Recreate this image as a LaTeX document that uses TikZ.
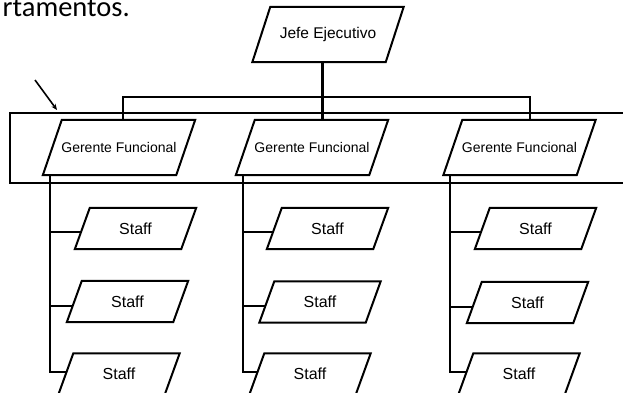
\documentclass[tikz,border=0pt]{standalone}
\usepackage{fontspec}
\usetikzlibrary{arrows.meta}
\newfontfamily\chartfont{Liberation Sans}
\newfontfamily\bodyfont{Carlito}

\tikzset{
  x=1pt, y=1pt,
  orgbox/.style={rectangle, inner sep=0pt, text=black},
  jefebox/.style={orgbox, minimum width=133pt, minimum height=55pt,
    font=\chartfont\fontsize{15.5}{17}\selectfont},
  gerbox/.style={orgbox, minimum width=133pt, minimum height=55pt,
    font=\chartfont\fontsize{14}{16}\selectfont},
  staffbox/.style={orgbox, minimum width=106pt, minimum height=41pt,
    font=\chartfont\fontsize{16}{18}\selectfont},
  boxline/.style={draw=black, line width=2pt, line join=miter},
  link/.style={draw=black, line width=2pt},
  mainlink/.style={draw=black, line width=3pt},
  frameline/.style={draw=black, line width=1.8pt},
}

% parallelogram outline around a node; #2 is half the horizontal lean
\newcommand\leanoutline[2]{%
  \draw[boxline] ([xshift=-#2]#1.south west) -- ([xshift=#2]#1.north west)
    -- ([xshift=#2]#1.north east) -- ([xshift=-#2]#1.south east) -- cycle;}

\begin{document}
\begin{tikzpicture}
\useasboundingbox (0,0) rectangle (623,-392);

% heading text running in from the left margin
\node[anchor=base east, inner sep=0pt, font=\bodyfont\fontsize{28.5}{32}\selectfont]
  (heading) at (130,-16.5) {rtamentos.};

% frame around the row of managers, open on the right
\draw[frameline] (630,-113) -- (10,-113) -- (10,-183) -- (630,-183);
\coordinate (pointtail) at (35,-80);
\coordinate (pointtip) at (57,-110);
\draw[line width=1.6pt, -{Stealth[open,length=6pt,width=5pt]}] (pointtail) -- (pointtip);

% chief executive
\node[jefebox] (jefe) at (328,-34.5) {Jefe Ejecutivo};

% functional managers
\node[gerbox] (g1) at (119,-147.5) {Gerente Funcional};
\node[gerbox] (g2) at (312,-147.5) {Gerente Funcional};
\node[gerbox] (g3) at (519.5,-147.5) {Gerente Funcional};

% staff under each manager
\node[staffbox] (s11) at (135.5,-228.5) {Staff};
\node[staffbox] (s12) at (127.5,-301.5) {Staff};
\node[staffbox] (s13) at (119,-374) {Staff};

\node[staffbox] (s21) at (327.5,-228.5) {Staff};
\node[staffbox] (s22) at (320,-302) {Staff};
\node[staffbox] (s23) at (310,-374) {Staff};

\node[staffbox] (s31) at (535.5,-228.5) {Staff};
\node[staffbox] (s32) at (527.5,-302.5) {Staff};
\node[staffbox] (s33) at (519,-374) {Staff};

% leaning outlines
\leanoutline{jefe}{9pt}
\foreach \n in {g1,g2,g3}{\leanoutline{\n}{9.5pt}}
\foreach \n in {s11,s12,s13,s21,s22,s23,s31,s32,s33}{\leanoutline{\n}{7.5pt}}

% chief to managers
\draw[mainlink] ([xshift=-6pt]jefe.south) -- ([xshift=-6pt]jefe.south |- g2.north);
\draw[link] ([xshift=4pt]g1.north) -- ++(0,23) -| ([xshift=10.5pt]g3.north);

% manager to staff trees
\foreach \g/\a/\b/\c in {g1/s11/s12/s13, g2/s21/s22/s23, g3/s31/s32/s33}{
  \coordinate (\g-drop) at ([xshift=-2.5pt]\g.south west);
  \coordinate (\a-in) at ([xshift=-1pt,yshift=-3pt]\a.west);
  \coordinate (\b-in) at ([xshift=-1.5pt,yshift=-4pt]\b.west);
  \coordinate (\c-in) at ([xshift=0.7pt,yshift=2pt]\c.west);
  \draw[link] (\g-drop) |- (\c-in);
  \draw[link] (\g-drop |- \a-in) -- (\a-in);
  \draw[link] (\g-drop |- \b-in) -- (\b-in);
}
\end{tikzpicture}
\end{document}
